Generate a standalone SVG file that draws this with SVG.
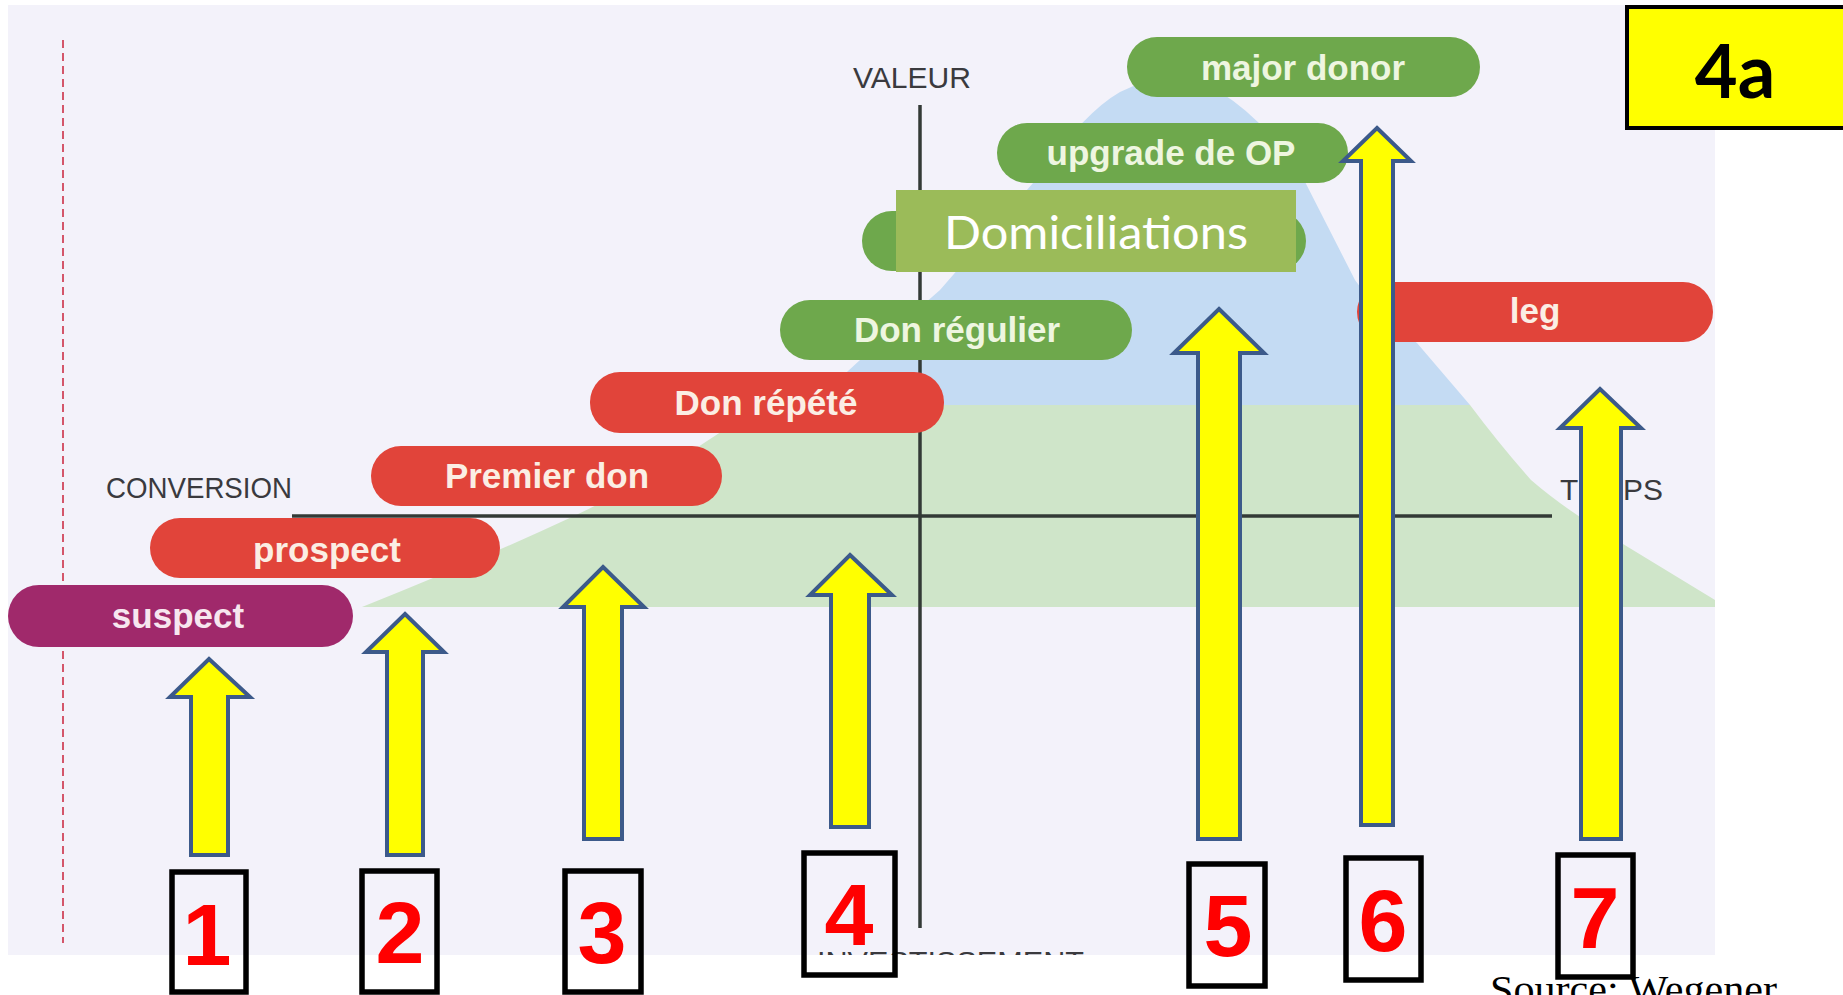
<svg xmlns="http://www.w3.org/2000/svg" width="1843" height="995" viewBox="0 0 1843 995">
  <defs>
    <clipPath id="sheet">
      <rect x="8" y="5" width="1707" height="950"/>
    </clipPath>
    <style>
      .axis { stroke: #333a36; stroke-width: 3.5; fill: none; }
      .axislabel { font-family: "Liberation Sans", Arial, sans-serif; font-size: 29px; fill: #3a3a3e; }
      .pill-red { fill: #e1443a; }
      .pill-green { fill: #6ea84c; }
      .pill-purple { fill: #a0296b; }
      .pilltext { font-family: "Liberation Sans", Arial, sans-serif; font-weight: bold; font-size: 35px; text-anchor: middle; }
      .on-red { fill: #fbeee4; }
      .on-green { fill: #eef6e0; }
      .on-purple { fill: #f7e6ef; }
      .arrow { fill: #ffff00; stroke: #3c5a8a; stroke-width: 4; stroke-linejoin: miter; }
      .numbox { fill: none; stroke: #000; stroke-width: 5.5; }
      .num { font-family: "Liberation Sans", Arial, sans-serif; font-weight: bold; font-size: 88px; fill: #ff0000; text-anchor: middle; }
    </style>
  </defs>

  <!-- page -->
  <rect x="0" y="0" width="1843" height="995" fill="#ffffff"/>
  <rect x="8" y="5" width="1707" height="950" fill="#f3f2fa"/>

  <g clip-path="url(#sheet)">
    <!-- donor pyramid: green base and blue peak -->
    <path d="M362,607 Q480,560 574,516 Q650,480 704,443 L762,405 L1470,405 Q1500,445 1531,480 Q1560,505 1600,530 L1715,600 L1715,607 Z" fill="#cfe5c9"/>
    <path d="M811,405 L860,360 L940,290 L1040,175 Q1085,112 1120,92 Q1170,66 1220,92 Q1262,118 1300,172 L1355,280 Q1382,318 1417,343 L1470,405 Z" fill="#c4dbf3"/>

    <!-- time axis marker -->
    <line x1="63" y1="40" x2="63" y2="943" stroke="#d4566a" stroke-width="2" stroke-dasharray="8 5"/>

    <!-- axes -->
    <line class="axis" x1="292" y1="516" x2="1552" y2="516"/>
    <line class="axis" x1="920" y1="105" x2="920" y2="928" stroke-width="3"/>

    <!-- axis labels -->
    <text class="axislabel" x="106" y="498" textLength="186" lengthAdjust="spacingAndGlyphs">CONVERSION</text>
    <text class="axislabel" x="853" y="88" textLength="118" lengthAdjust="spacingAndGlyphs">VALEUR</text>
    <text class="axislabel" x="1560" y="500" textLength="103" lengthAdjust="spacingAndGlyphs">TEMPS</text>
    <text class="axislabel" x="817" y="972" textLength="267" lengthAdjust="spacingAndGlyphs">INVESTISSEMENT</text>
  </g>

  <!-- stages -->
  <g id="suspect">
    <rect class="pill-purple" x="8" y="585" width="345" height="62" rx="31"/>
    <text class="pilltext on-purple" x="178" y="628">suspect</text>
  </g>
  <g id="prospect">
    <rect class="pill-red" x="150" y="518" width="350" height="60" rx="30"/>
    <text class="pilltext on-red" x="327" y="562">prospect</text>
  </g>
  <g id="premier-don">
    <rect class="pill-red" x="371" y="446" width="351" height="60" rx="30"/>
    <text class="pilltext on-red" x="547" y="488">Premier don</text>
  </g>
  <g id="don-repete">
    <rect class="pill-red" x="590" y="372" width="354" height="61" rx="30"/>
    <text class="pilltext on-red" x="766" y="415">Don répété</text>
  </g>
  <g id="don-regulier">
    <rect class="pill-green" x="780" y="300" width="352" height="60" rx="30"/>
    <text class="pilltext on-green" x="957" y="342">Don régulier</text>
  </g>
  <g id="domiciliations">
    <rect class="pill-green" x="862" y="211" width="444" height="60" rx="30"/>
    <rect x="896" y="190" width="400" height="82" fill="#9bbb59"/>
    <text x="1096" y="249" font-family="Lato, 'Open Sans', sans-serif" font-size="46" fill="#ffffff" text-anchor="middle" textLength="304" lengthAdjust="spacingAndGlyphs">Domiciliations</text>
  </g>
  <g id="upgrade-op">
    <rect class="pill-green" x="997" y="123" width="351" height="60" rx="30"/>
    <text class="pilltext on-green" x="1171" y="165">upgrade de OP</text>
  </g>
  <g id="major-donor">
    <rect class="pill-green" x="1127" y="37" width="353" height="60" rx="30"/>
    <text class="pilltext on-green" x="1303" y="80">major donor</text>
  </g>
  <g id="leg">
    <rect class="pill-red" x="1357" y="282" width="356" height="60" rx="30"/>
    <text class="pilltext on-red" x="1535" y="323">leg</text>
  </g>

  <!-- upward block arrows -->
  <g id="connectors">
    <path class="arrow" d="M209,659 L250,697 L228,697 L228,855 L191,855 L191,697 L170,697 Z"/>
    <path class="arrow" d="M405,614 L444,652 L423,652 L423,855 L387,855 L387,652 L366,652 Z"/>
    <path class="arrow" d="M603,567 L644,607 L622,607 L622,839 L584,839 L584,607 L563,607 Z"/>
    <path class="arrow" d="M850,555 L892,595 L869,595 L869,827 L831,827 L831,595 L810,595 Z"/>
    <path class="arrow" d="M1219,309 L1264,353 L1240,353 L1240,839 L1198,839 L1198,353 L1174,353 Z"/>
    <path class="arrow" d="M1377,128 L1411,161 L1393,161 L1393,825 L1361,825 L1361,161 L1343,161 Z"/>
    <path class="arrow" d="M1600,389 L1641,428 L1621,428 L1621,839 L1581,839 L1581,428 L1560,428 Z"/>
  </g>

  <!-- source note -->
  <text x="1490" y="1003" font-family="'Liberation Serif', 'Times New Roman', serif" font-size="40" fill="#000000" textLength="287" lengthAdjust="spacingAndGlyphs">Source: Wegener</text>

  <!-- numbered steps -->
  <g id="step-1">
    <rect class="numbox" x="172" y="872" width="74" height="120"/>
    <text class="num" x="207" y="965">1</text>
  </g>
  <g id="step-2">
    <rect class="numbox" x="362" y="871" width="75" height="121"/>
    <text class="num" x="400" y="963">2</text>
  </g>
  <g id="step-3">
    <rect class="numbox" x="565" y="871" width="76" height="121"/>
    <text class="num" x="602" y="963">3</text>
  </g>
  <g id="step-4">
    <rect class="numbox" x="804" y="853" width="91" height="122"/>
    <text class="num" x="849" y="945">4</text>
  </g>
  <g id="step-5">
    <rect class="numbox" x="1189" y="864" width="76" height="122"/>
    <text class="num" x="1228" y="956">5</text>
  </g>
  <g id="step-6">
    <rect class="numbox" x="1346" y="858" width="75" height="122"/>
    <text class="num" x="1383" y="951">6</text>
  </g>
  <g id="step-7">
    <rect class="numbox" x="1558" y="855" width="75" height="122"/>
    <text class="num" x="1595" y="948">7</text>
  </g>

  <!-- slide tag -->
  <g id="tag-4a">
    <rect x="1627" y="7" width="222" height="121" fill="#ffff00" stroke="#000000" stroke-width="4"/>
    <text x="1735" y="98" font-family="Lato, 'Open Sans', sans-serif" font-weight="bold" font-size="74" fill="#000000" text-anchor="middle">4a</text>
  </g>
</svg>
